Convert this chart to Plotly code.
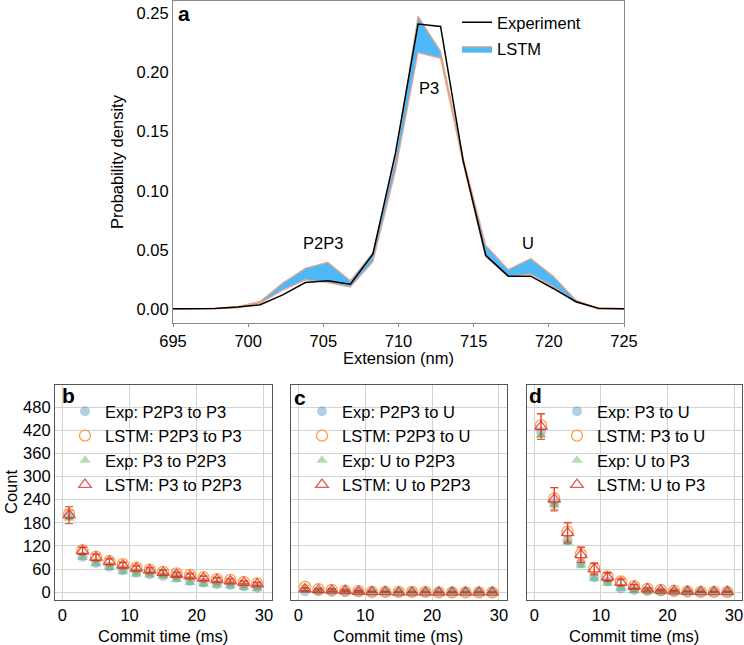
import plotly.graph_objects as go

# ---------------- Data: panel a ----------------
extension_nm = [693.3, 694.8, 696.3, 697.8, 699.3, 700.8, 702.3, 703.8, 705.3, 706.8, 708.3, 709.8,
                711.3, 712.8, 714.3, 715.8, 717.3, 718.8, 720.3, 721.8, 723.3, 724.8, 726.3]
experiment = [0.0, 0.0, 0.0, 0.0005, 0.0017, 0.0036, 0.012, 0.0224, 0.024, 0.021, 0.0466, 0.132,
              0.241, 0.239, 0.1255, 0.0455, 0.0278, 0.0278, 0.0174, 0.0062, 0.0006, 0.0, 0.0]
lstm_upper = [0.0, 0.0, 0.0, 0.0007, 0.002, 0.0065, 0.022, 0.0345, 0.0396, 0.024, 0.0477, 0.128,
              0.2477, 0.218, 0.128, 0.054, 0.0334, 0.0427, 0.0278, 0.0076, 0.0005, 0.0, 0.0]
lstm_lower = [0.0, 0.0, 0.0, 0.0004, 0.001, 0.005, 0.016, 0.0247, 0.0224, 0.0185, 0.040, 0.117,
              0.2168, 0.212, 0.123, 0.044, 0.0278, 0.0295, 0.0188, 0.006, 0.0, 0.0, 0.0]

# ---------------- Data: panels b, c, d ----------------
commit_ms = [1, 3, 5, 7, 9, 11, 13, 15, 17, 19, 21, 23, 25, 27, 29]

b_exp_p2p3_p3 = [198, 92, 76, 66, 57, 51, 47, 42, 38, 30, 25, 21, 19, 16, 12]
b_lstm_p2p3_p3 = [203, 109, 92, 81, 73, 64, 59, 53, 49, 45, 39, 34, 32, 27, 23]
b_lstm_p2p3_p3_err = [10, 8, 7, 7, 6, 6, 6, 5, 5, 5, 5, 5, 4, 4, 4]
b_exp_p3_p2p3 = [192, 90, 74, 65, 53, 47, 45, 42, 33, 25, 21, 19, 16, 12, 9]
b_lstm_p3_p2p3 = [200, 107, 90, 79, 70, 62, 57, 51, 46, 42, 36, 32, 29, 25, 21]
b_lstm_p3_p2p3_err = [22, 9, 8, 7, 7, 6, 6, 6, 5, 5, 5, 5, 5, 4, 4]

c_exp_p2p3_u = [2, 2, 1, 1, 1, 0, 0, 0, 0, 0, 0, 0, 0, 0, 0]
c_lstm_p2p3_u = [14, 8, 6, 4, 3, 1, 1, 1, 1, 1, 0, 0, 0, 0, 0]
c_lstm_p2p3_u_err = [4, 3, 3, 2, 2, 1, 1, 1, 1, 1, 1, 1, 1, 1, 1]
c_exp_u_p2p3 = [5, 3, 3, 2, 1, 0, 0, 0, 0, 0, 0, 0, 0, 0, 0]
c_lstm_u_p2p3 = [8, 6, 5, 4, 2, 1, 1, 0, 0, 0, 0, 0, 0, 0, 0]
c_lstm_u_p2p3_err = [4, 3, 3, 2, 2, 1, 1, 1, 1, 1, 1, 1, 1, 1, 1]

d_exp_p3_u = [416, 230, 135, 75, 39, 28, 10, 6, 3, 2, 1, 0.5, 0, 0, 0]
d_lstm_p3_u = [433, 243, 157, 99, 62, 41, 28, 16, 9, 6, 4, 2, 1, 1, 1]
d_lstm_p3_u_err = [30, 28, 24, 18, 14, 10, 8, 5, 3, 2, 2, 1, 1, 1, 1]
d_exp_u_p3 = [407, 226, 129, 69, 35, 23, 10, 4, 2, 1, 1, 0, 0, 0, 0]
d_lstm_u_p3 = [429, 241, 154, 97, 60, 39, 25, 15, 8, 5, 3, 2, 1, 1, 1]
d_lstm_u_p3_err = [33, 30, 26, 20, 15, 11, 8, 5, 3, 2, 2, 1, 1, 1, 1]

count_ticks = [0, 60, 120, 180, 240, 300, 360, 420, 480]

# ---------------- Styles ----------------
W, H = 744, 645
FONT = "Liberation Sans, Arial, Helvetica, sans-serif"
FS = 16.5
BLUE = "rgba(31,119,180,0.35)"
ORANGE = "rgba(255,127,14,0.75)"
GREEN = "rgba(44,160,44,0.35)"
RED = "rgba(214,39,40,0.75)"


def px_x(p):
    return p / W


def px_y(p):
    return (H - p) / H


fig = go.Figure()

# ---- panel a ----
fig.add_trace(go.Scatter(x=extension_nm, y=lstm_lower, mode="lines",
                         line=dict(color="#f4a582", width=1.2), showlegend=False,
                         xaxis="x", yaxis="y", hoverinfo="skip"))
fig.add_trace(go.Scatter(x=extension_nm, y=lstm_upper, mode="lines", fill="tonexty",
                         fillcolor="#4fb9f7", line=dict(color="#f4a582", width=1.2),
                         name="LSTM", legend="legend", legendgroup="g2", legendrank=2,
                         xaxis="x", yaxis="y"))
fig.add_trace(go.Scatter(x=extension_nm, y=experiment, mode="lines",
                         line=dict(color="black", width=1.5), name="Experiment",
                         legend="legend", legendgroup="g1", legendrank=1,
                         xaxis="x", yaxis="y"))

# ---- panels b, c, d ----
panels = [
    ("x2", "y2", "legend2",
     [("Exp: P2P3 to P3", b_exp_p2p3_p3, None), ("LSTM: P2P3 to P3", b_lstm_p2p3_p3, b_lstm_p2p3_p3_err),
      ("Exp: P3 to P2P3", b_exp_p3_p2p3, None), ("LSTM: P3 to P2P3", b_lstm_p3_p2p3, b_lstm_p3_p2p3_err)]),
    ("x3", "y3", "legend3",
     [("Exp: P2P3 to U", c_exp_p2p3_u, None), ("LSTM: P2P3 to U", c_lstm_p2p3_u, c_lstm_p2p3_u_err),
      ("Exp: U to P2P3", c_exp_u_p2p3, None), ("LSTM: U to P2P3", c_lstm_u_p2p3, c_lstm_u_p2p3_err)]),
    ("x4", "y4", "legend4",
     [("Exp: P3 to U", d_exp_p3_u, None), ("LSTM: P3 to U", d_lstm_p3_u, d_lstm_p3_u_err),
      ("Exp: U to P3", d_exp_u_p3, None), ("LSTM: U to P3", d_lstm_u_p3, d_lstm_u_p3_err)]),
]
styles = [
    dict(symbol="circle", color=BLUE, size=10, line=dict(width=0)),
    dict(symbol="circle-open", color=ORANGE, size=11, line=dict(width=1.3, color=ORANGE)),
    dict(symbol="triangle-up", color=GREEN, size=10, line=dict(width=0)),
    dict(symbol="triangle-up-open", color=RED, size=11, line=dict(width=1.3, color=RED)),
]
ecolors = [None, ORANGE, None, RED]

for xa, ya, lg, series in panels:
    for k, (name, vals, err) in enumerate(series):
        tr = dict(x=commit_ms, y=vals, mode="markers", name=name, marker=styles[k],
                  xaxis=xa, yaxis=ya, legend=lg, legendrank=k + 1)
        if err is not None:
            tr["error_y"] = dict(type="data", array=err, visible=True, color=ecolors[k],
                                 thickness=1.3, width=4)
        fig.add_trace(go.Scatter(**tr))

# ---- axes ----
axis_common = dict(showline=True, mirror=True, zeroline=False, automargin=False,
                   tickfont=dict(family=FONT, size=FS, color="black"))

layout = dict(
    template="none",
    width=W, height=H, margin=dict(l=0, r=0, t=0, b=0, autoexpand=False),
    paper_bgcolor="white", plot_bgcolor="white",
    font=dict(family=FONT, size=FS, color="black"),
    xaxis=dict(domain=[px_x(173), px_x(624)], range=[695, 725], anchor="y",
               tickvals=[695, 700, 705, 710, 715, 720, 725], ticks="outside", ticklen=3,
               tickcolor="#888", linecolor="#888", linewidth=1.2, showgrid=False, **axis_common),
    yaxis=dict(domain=[px_y(323), px_y(1)], range=[-0.0118, 0.2605], anchor="x",
               tickvals=[0, 0.05, 0.10, 0.15, 0.20, 0.25], tickformat=".2f", ticks="",
               linecolor="#888", linewidth=1.2, showgrid=False, **axis_common),
)

dom_x = {"2": [55, 272], "3": [291, 507], "4": [527, 742]}
for n, (l, r) in dom_x.items():
    layout["xaxis" + n] = dict(domain=[px_x(l), px_x(r)], range=[-1.1, 31.2], anchor="y" + n,
                               tickvals=[0, 10, 20, 30], ticks="", showgrid=True,
                               gridcolor="#d3d3d3", gridwidth=1, linecolor="#555", linewidth=1.2,
                               **axis_common)
    layout["yaxis" + n] = dict(domain=[px_y(600), px_y(385)], range=[-20, 537], anchor="x" + n,
                               tickvals=count_ticks, ticks="", showgrid=True,
                               gridcolor="#d3d3d3", gridwidth=1, linecolor="#555", linewidth=1.2,
                               showticklabels=(n == "2"), **axis_common)

leg_common = dict(bgcolor="rgba(0,0,0,0)", borderwidth=0, font=dict(family=FONT, size=FS, color="black"),
                  xanchor="left", yanchor="top", itemwidth=30)
layout["legend"] = dict(x=px_x(457), y=px_y(5), tracegroupgap=2, traceorder="grouped", **leg_common)
layout["legend2"] = dict(x=px_x(65), y=px_y(394), tracegroupgap=0, **leg_common)
layout["legend3"] = dict(x=px_x(302), y=px_y(394), tracegroupgap=0, **leg_common)
layout["legend4"] = dict(x=px_x(557), y=px_y(394), tracegroupgap=0, **leg_common)

ann = []


def text(x, y, s, size=FS, bold=False, angle=0, xanchor="center"):
    ann.append(dict(x=px_x(x), y=px_y(y), xref="paper", yref="paper", text=("<b>%s</b>" % s) if bold else s,
                    showarrow=False, textangle=angle, xanchor=xanchor, yanchor="middle",
                    font=dict(family=FONT, size=size, color="black")))


text(117, 162, "Probability density", angle=-90)
text(398, 358, "Extension (nm)")
text(11, 492, "Count", angle=-90)
for cx in [163, 398, 634]:
    text(cx, 636, "Commit time (ms)")
text(184, 14, "a", size=21, bold=True)
text(68, 396, "b", size=21, bold=True)
text(300, 397, "c", size=21, bold=True)
text(535, 396, "d", size=21, bold=True)

# in-plot labels for panel a (data coordinates)
for lx, ly, s in [(705.0, 0.0556, "P2P3"), (712.0, 0.187, "P3"), (718.6, 0.0556, "U")]:
    ann.append(dict(x=lx, y=ly, xref="x", yref="y", text=s, showarrow=False,
                    font=dict(family=FONT, size=FS, color="black")))

layout["annotations"] = ann
fig.update_layout(**layout)
fig.write_html("out.html", config={"displayModeBar": False},
               post_script="document.body.style.margin='0';document.body.style.overflow='hidden';")
